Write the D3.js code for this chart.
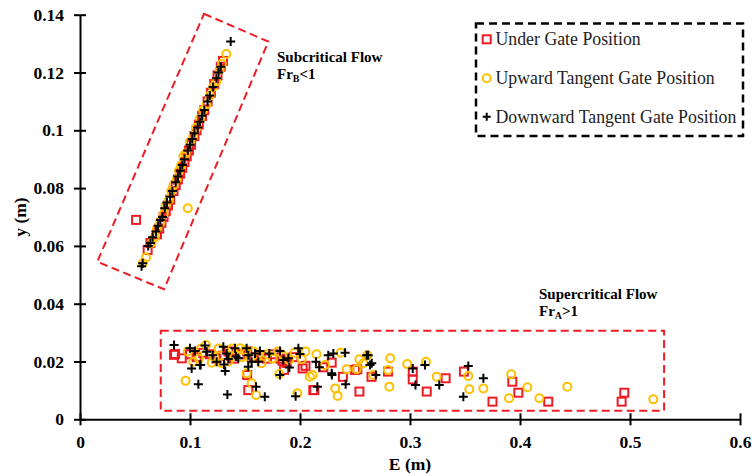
<!DOCTYPE html>
<html>
<head>
<meta charset="utf-8">
<script src="https://cdn.jsdelivr.net/npm/d3@7/dist/d3.min.js"></script>
<style>
  html, body { margin: 0; padding: 0; background: #fff; }
  svg { display: block; }
  text { font-family: "Liberation Serif", "Times New Roman", serif; }
</style>
</head>
<body>
<script>
// Specific energy E (m) against flow depth y (m) for three gate positions.
// Each series is split into its subcritical (upper) and supercritical (lower) branch.

const xTicks = [0, 0.1, 0.2, 0.3, 0.4, 0.5, 0.6];
const yTicks = [0, 0.02, 0.04, 0.06, 0.08, 0.1, 0.12, 0.14];

const seriesNames = ["Under Gate Position", "Upward Tangent Gate Position", "Downward Tangent Gate Position"];

// Under gate position — [E, y]
const underSub = [
  [0.051, 0.069], [0.0615, 0.0586], [0.064, 0.061], [0.070, 0.064], [0.072, 0.066], [0.074, 0.068],
  [0.076, 0.070], [0.078, 0.072], [0.080, 0.074], [0.082, 0.076], [0.085, 0.079], [0.087, 0.081],
  [0.089, 0.083], [0.091, 0.085], [0.093, 0.087], [0.095, 0.089], [0.097, 0.091], [0.099, 0.093],
  [0.101, 0.095], [0.104, 0.098], [0.106, 0.100], [0.108, 0.102], [0.111, 0.105], [0.113, 0.107],
  [0.116, 0.110], [0.119, 0.113], [0.122, 0.116], [0.125, 0.119], [0.128, 0.122], [0.130, 0.124]
];
const underSuper = [
  [0.0855, 0.0223], [0.0864, 0.0226], [0.0925, 0.0211], [0.100, 0.0225], [0.106, 0.0215], [0.112, 0.0230],
  [0.118, 0.0225], [0.124, 0.0210], [0.130, 0.0220], [0.135, 0.0235], [0.140, 0.0210], [0.146, 0.0225],
  [0.152, 0.0235], [0.152, 0.0153], [0.153, 0.0101], [0.158, 0.0215], [0.164, 0.0220], [0.170, 0.0210],
  [0.176, 0.0225], [0.182, 0.0210], [0.184, 0.0203], [0.1855, 0.0171], [0.188, 0.0195], [0.194, 0.0215],
  [0.2024, 0.0176], [0.205, 0.0185], [0.2121, 0.0101], [0.213, 0.0101], [0.2212, 0.0180], [0.2288, 0.0196],
  [0.239, 0.0147], [0.250, 0.0171], [0.2521, 0.0173], [0.254, 0.0096], [0.265, 0.0147], [0.280, 0.0165],
  [0.3025, 0.0165], [0.3025, 0.0138], [0.3152, 0.0096], [0.3324, 0.0142], [0.349, 0.0165], [0.375, 0.0061],
  [0.393, 0.0130], [0.3985, 0.0092], [0.4257, 0.0061], [0.4924, 0.0061], [0.4948, 0.0092]
];

// Upward tangent gate position — [E, y]
const upwardSub = [
  [0.057, 0.054], [0.060, 0.056], [0.065, 0.061], [0.068, 0.063], [0.070, 0.066], [0.073, 0.068],
  [0.076, 0.071], [0.078, 0.074], [0.081, 0.076], [0.083, 0.079], [0.085, 0.081], [0.088, 0.083],
  [0.090, 0.086], [0.092, 0.088], [0.094, 0.091], [0.096, 0.092], [0.098, 0.073], [0.100, 0.096],
  [0.103, 0.098], [0.106, 0.101], [0.109, 0.104], [0.112, 0.107], [0.115, 0.109], [0.118, 0.112],
  [0.121, 0.115], [0.124, 0.117], [0.127, 0.121], [0.129, 0.123], [0.133, 0.1264]
];
const upwardSuper = [
  [0.096, 0.0133], [0.098, 0.0235], [0.103, 0.0199], [0.108, 0.0210], [0.110, 0.0245], [0.1145, 0.0257],
  [0.1197, 0.0196], [0.122, 0.0215], [0.126, 0.0245], [0.1288, 0.0194], [0.135, 0.0200], [0.138, 0.0245],
  [0.141, 0.0219], [0.1455, 0.0246], [0.147, 0.0215], [0.150, 0.0240], [0.1515, 0.0159], [0.155, 0.0210],
  [0.156, 0.0125], [0.158, 0.0235], [0.160, 0.0084], [0.162, 0.0225], [0.165, 0.0194], [0.170, 0.0225],
  [0.175, 0.0210], [0.180, 0.0235], [0.1812, 0.0157], [0.185, 0.0220], [0.190, 0.0205], [0.195, 0.0230],
  [0.1976, 0.0090], [0.2015, 0.0208], [0.205, 0.0235], [0.209, 0.0147], [0.2115, 0.0153], [0.215, 0.0225],
  [0.2227, 0.0188], [0.232, 0.0107], [0.2342, 0.0081], [0.237, 0.0230], [0.2424, 0.0173], [0.2515, 0.0173],
  [0.254, 0.0208], [0.2576, 0.0194], [0.2612, 0.0222], [0.2667, 0.0153], [0.280, 0.0171], [0.282, 0.0211],
  [0.2812, 0.0113], [0.2975, 0.0191], [0.3145, 0.0199], [0.3243, 0.0147], [0.353, 0.0150], [0.3539, 0.0104],
  [0.3667, 0.0107], [0.390, 0.0073], [0.392, 0.0156], [0.4067, 0.0111], [0.4176, 0.0073], [0.443, 0.0113],
  [0.5212, 0.0069]
];

// Downward tangent gate position — [E, y]
const downwardSub = [
  [0.056, 0.053], [0.057, 0.054], [0.062, 0.060], [0.064, 0.061], [0.066, 0.063], [0.069, 0.065],
  [0.071, 0.067], [0.073, 0.069], [0.075, 0.070], [0.077, 0.073], [0.079, 0.075], [0.082, 0.077],
  [0.084, 0.079], [0.087, 0.082], [0.089, 0.084], [0.091, 0.086], [0.093, 0.088], [0.095, 0.090],
  [0.098, 0.093], [0.100, 0.095], [0.102, 0.097], [0.104, 0.099], [0.107, 0.101], [0.109, 0.103],
  [0.111, 0.105], [0.113, 0.107], [0.116, 0.110], [0.118, 0.112], [0.121, 0.115], [0.124, 0.118],
  [0.126, 0.120], [0.128, 0.122], [0.137, 0.1307]
];
const downwardSuper = [
  [0.0855, 0.0257], [0.100, 0.0246], [0.1015, 0.0176], [0.1045, 0.0236], [0.1076, 0.0121], [0.109, 0.0188],
  [0.1097, 0.0188], [0.1136, 0.0255], [0.1152, 0.0234], [0.1206, 0.0222], [0.1242, 0.0199], [0.1303, 0.0251],
  [0.1309, 0.0190], [0.132, 0.0167], [0.1333, 0.0228], [0.134, 0.0086], [0.1348, 0.0209], [0.1409, 0.0246],
  [0.1418, 0.0217], [0.1439, 0.0211], [0.1515, 0.0246], [0.153, 0.0222], [0.153, 0.0182], [0.156, 0.0199],
  [0.1591, 0.0228], [0.160, 0.0113], [0.1621, 0.0199], [0.1636, 0.0236], [0.168, 0.0078], [0.1721, 0.0228],
  [0.1818, 0.0236], [0.1818, 0.0153], [0.1848, 0.0205], [0.1894, 0.0211], [0.1903, 0.0179], [0.196, 0.0080],
  [0.1985, 0.0246], [0.200, 0.0226], [0.2145, 0.0199], [0.2158, 0.0113], [0.2176, 0.0180], [0.2257, 0.0222],
  [0.2288, 0.0159], [0.229, 0.0153], [0.2303, 0.0228], [0.241, 0.0230], [0.2415, 0.0121], [0.2606, 0.0222],
  [0.262, 0.0222], [0.2636, 0.0188], [0.2652, 0.0194], [0.269, 0.0153], [0.3025, 0.0176], [0.305, 0.0119],
  [0.3136, 0.0188], [0.3266, 0.0119], [0.3485, 0.0078], [0.353, 0.0184], [0.3667, 0.0142]
];

// Region outlines, in data units [E, y]
const subcriticalRegion = [[0.1127, 0.1403], [0.1712, 0.1307], [0.0764, 0.0450], [0.0157, 0.0545]];
const supercriticalRegion = [[0.0734, 0.0306], [0.531, 0.0306], [0.531, 0.0030], [0.0734, 0.0030]];

const W = 756, H = 476;
const svg = d3.select("body").append("svg").attr("width", W).attr("height", H);

const x = d3.scaleLinear().domain([0, 0.6]).range([80, 740]);
const y = d3.scaleLinear().domain([0, 0.14]).range([419.3, 14.7]);

const RED = "#ee1c24", GOLD = "#ffc000", BLACK = "#000";

// Axes with ticks crossing the axis line
const xAxis = svg.append("g").attr("transform", `translate(0,${y(0)})`)
  .call(d3.axisBottom(x).tickValues(xTicks).tickFormat(d => String(d)).tickSizeInner(6).tickSizeOuter(0).tickPadding(10));
const yAxis = svg.append("g").attr("transform", `translate(${x(0)},0)`)
  .call(d3.axisLeft(y).tickValues(yTicks).tickFormat(d => String(d)).tickSizeInner(6).tickSizeOuter(0).tickPadding(10));

[xAxis, yAxis].forEach(g => {
  g.select(".domain").attr("stroke", BLACK).attr("stroke-width", 2);
  g.selectAll(".tick line").attr("stroke", BLACK).attr("stroke-width", 2);
  g.selectAll(".tick text").attr("fill", BLACK).attr("font-size", 17.5).attr("font-weight", "bold")
    .attr("font-family", "Liberation Serif, Times New Roman, serif");
});
xAxis.selectAll(".tick line").attr("y1", -6);
yAxis.selectAll(".tick line").attr("x1", 6).attr("x2", -6);

// Axis titles
svg.append("text").attr("x", x(0.3)).attr("y", 470).attr("text-anchor", "middle")
  .attr("font-size", 17.5).attr("font-weight", "bold").text("E (m)");
svg.append("text").attr("transform", `translate(26,${(y(0) + y(0.14)) / 2}) rotate(-90)`)
  .attr("text-anchor", "middle").attr("font-size", 17.5).attr("font-weight", "bold").text("y (m)");

// Region outlines
const line = d3.line().x(d => x(d[0])).y(d => y(d[1]));
[subcriticalRegion, supercriticalRegion].forEach(r => {
  svg.append("path").attr("d", line(r) + "Z").attr("fill", "none")
    .attr("stroke", RED).attr("stroke-width", 2).attr("stroke-dasharray", "8,4.5");
});

// Marker drawers
const S = 4;
function squares(data) {
  svg.append("g").selectAll("rect").data(data).join("rect")
    .attr("x", d => x(d[0]) - S).attr("y", d => y(d[1]) - S)
    .attr("width", 2 * S).attr("height", 2 * S)
    .attr("fill", "none").attr("stroke", RED).attr("stroke-width", 2);
}
function circles(data) {
  svg.append("g").selectAll("circle").data(data).join("circle")
    .attr("cx", d => x(d[0])).attr("cy", d => y(d[1])).attr("r", 4)
    .attr("fill", "none").attr("stroke", GOLD).attr("stroke-width", 2);
}
function pluses(data) {
  svg.append("g").selectAll("path").data(data).join("path")
    .attr("d", d => {
      const cx = x(d[0]), cy = y(d[1]);
      return `M${cx - 4.5},${cy}H${cx + 4.5}M${cx},${cy - 4.5}V${cy + 4.5}`;
    })
    .attr("stroke", BLACK).attr("stroke-width", 2);
}

squares(underSub.concat(underSuper));
circles(upwardSub.concat(upwardSuper));
pluses(downwardSub.concat(downwardSuper));

// Flow-regime labels: title line, then Froude number with subscript
function regimeLabel(px, py, title, sub, rel) {
  svg.append("text").attr("x", px).attr("y", py)
    .attr("font-size", 15).attr("font-weight", "bold").text(title);
  const t = svg.append("text").attr("x", px).attr("y", py + 17)
    .attr("font-size", 15).attr("font-weight", "bold");
  t.append("tspan").text("Fr");
  t.append("tspan").attr("font-size", 10).attr("dy", 3).text(sub);
  t.append("tspan").attr("dy", -3).text(rel);
}
regimeLabel(277, 62, "Subcritical Flow", "B", "<1");
regimeLabel(539, 299, "Supercritical Flow", "A", ">1");

// Legend
const lg = svg.append("g");
lg.append("rect").attr("x", 476).attr("y", 23.5).attr("width", 267).attr("height", 112.5)
  .attr("fill", "#fff").attr("stroke", BLACK).attr("stroke-width", 2.5).attr("stroke-dasharray", "8,5");
const rows = [39.3, 78.3, 116.7];
lg.append("rect").attr("x", 486.7 - S).attr("y", rows[0] - S).attr("width", 2 * S).attr("height", 2 * S)
  .attr("fill", "none").attr("stroke", RED).attr("stroke-width", 2);
lg.append("circle").attr("cx", 486.7).attr("cy", rows[1]).attr("r", 4)
  .attr("fill", "none").attr("stroke", GOLD).attr("stroke-width", 2);
lg.append("path").attr("d", `M${486.7 - 4},${rows[2]}H${486.7 + 4}M486.7,${rows[2] - 4}V${rows[2] + 4}`)
  .attr("stroke", BLACK).attr("stroke-width", 2);
seriesNames.forEach((n, i) => {
  lg.append("text").attr("x", 495.5).attr("y", rows[i] + 6).attr("font-size", 17.8)
    .attr("fill", "#222").text(n);
});
</script>
</body>
</html>
